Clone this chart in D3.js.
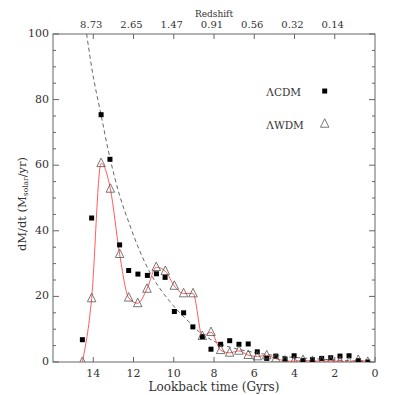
<!DOCTYPE html>
<html>
<head>
<meta charset="utf-8">
<script src="https://cdn.jsdelivr.net/npm/d3@7"></script>
<style>
  html, body { margin: 0; padding: 0; background: #fff; }
  svg text { font-family: "DejaVu Serif", "Liberation Serif", serif; fill: #333; }
</style>
</head>
<body>
<div id="chart"></div>
<script>
// Star formation rate vs lookback time, LCDM vs LWDM

const cdmTime = [14.54, 14.08, 13.61, 13.17, 12.69, 12.24, 11.78, 11.31, 10.86, 10.43, 9.97, 9.51,
                 9.05, 8.58, 8.15, 7.67, 7.22, 6.76, 6.30, 5.85, 5.38, 4.93, 4.47, 4.02, 3.58,
                 3.11, 2.65, 2.20, 1.74, 1.29, 0.83, 0.36];
const cdmRate = [6.8, 43.9, 75.4, 61.8, 35.7, 27.9, 26.8, 26.4, 26.9, 25.8, 15.4, 15.0,
                 10.7, 7.7, 3.9, 5.4, 6.5, 5.4, 5.5, 3.1, 1.1, 1.8, 0.9, 1.9, 0.4,
                 0.7, 1.1, 1.3, 1.8, 1.9, 0.4, 0.0];

const wdmTime = [14.54, 14.08, 13.61, 13.15, 12.69, 12.24, 11.79, 11.33, 10.87, 10.42, 9.97, 9.51,
                 9.04, 8.58, 8.15, 7.67, 7.22, 6.76, 6.30, 5.85, 5.38, 4.93, 4.47, 4.02, 3.58,
                 3.11, 2.65, 2.20, 1.74, 1.29, 0.83, 0.36];
const wdmRate = [0.0, 19.4, 60.6, 52.8, 32.9, 19.6, 17.9, 22.3, 28.9, 27.7, 23.2, 20.9,
                 20.9, 7.9, 9.1, 3.6, 2.8, 3.4, 2.1, 1.7, 2.0, 1.0, 0.4, 0.2, 0.6,
                 0.3, 0.3, 0.3, 0.2, 0.0, 0.6, 0.0];

// dashed model curve
const fitTime = [14.33, 14.0, 13.6, 13.2, 12.7, 12.2, 11.7, 11.2, 10.7, 10.2, 9.7, 9.2, 8.7,
                 8.2, 7.7, 7.0, 6.0, 5.0, 4.0, 3.0, 2.0, 1.0, 0.3];
const fitRate = [100, 87, 75, 63, 51, 42, 34, 27.5, 22.5, 18.5, 15, 12, 9,
                 7, 5.5, 4.2, 2.9, 2.0, 1.4, 1.0, 0.6, 0.3, 0.1];

const bottomTicks = [14, 12, 10, 8, 6, 4, 2, 0];
const topTickTimes = [14, 12, 10, 8, 6, 4, 2];
const topTickLabels = ["8.73", "2.65", "1.47", "0.91", "0.56", "0.32", "0.14"];
const legendNames = ["\u039BCDM", "\u039BWDM"];

const W = 395, H = 395;
const m = { top: 34, right: 20, bottom: 33, left: 53 };
const iw = W - m.left - m.right;
const ih = H - m.top - m.bottom;

const x = d3.scaleLinear().domain([16, 0]).range([0, iw]);
const y = d3.scaleLinear().domain([0, 100]).range([ih, 0]);

const axisCol = "#666";

const svg = d3.select("#chart").append("svg")
  .attr("width", W).attr("height", H);

const g = svg.append("g").attr("transform", `translate(${m.left},${m.top})`);

// frame
g.append("rect")
  .attr("x", 0).attr("y", 0).attr("width", iw).attr("height", ih)
  .attr("fill", "none").attr("stroke", axisCol).attr("stroke-width", 1);

// y ticks, left and right (inward)
d3.range(0, 101, 5).forEach(v => {
  const len = v % 20 === 0 ? 6 : 3;
  g.append("line").attr("x1", 0).attr("x2", len).attr("y1", y(v)).attr("y2", y(v))
    .attr("stroke", axisCol);
  g.append("line").attr("x1", iw).attr("x2", iw - len).attr("y1", y(v)).attr("y2", y(v))
    .attr("stroke", axisCol);
});
d3.range(0, 101, 20).forEach(v => {
  g.append("text")
    .attr("x", -4).attr("y", y(v))
    .attr("text-anchor", "end").attr("dominant-baseline", "middle")
    .attr("font-size", "11px")
    .text(v);
});

// bottom ticks
bottomTicks.forEach(t => {
  g.append("line").attr("x1", x(t)).attr("x2", x(t)).attr("y1", ih).attr("y2", ih - 5)
    .attr("stroke", axisCol);
  g.append("text")
    .attr("x", x(t)).attr("y", ih + 15)
    .attr("text-anchor", "middle")
    .attr("font-size", "11px")
    .text(t);
});

// top ticks (redshift)
topTickTimes.forEach((t, i) => {
  g.append("line").attr("x1", x(t)).attr("x2", x(t)).attr("y1", 0).attr("y2", 5)
    .attr("stroke", axisCol);
  g.append("text")
    .attr("x", x(t) - 2).attr("y", -6)
    .attr("text-anchor", "middle")
    .attr("font-size", "10px")
    .text(topTickLabels[i]);
});

g.append("text")
  .attr("x", x(8)).attr("y", -17)
  .attr("text-anchor", "middle")
  .attr("font-size", "9px")
  .text("Redshift");

// axis titles
g.append("text")
  .attr("x", x(8)).attr("y", ih + 29)
  .attr("text-anchor", "middle")
  .attr("font-size", "12px")
  .text("Lookback time (Gyrs)");

const yl = g.append("text")
  .attr("transform", `translate(-27,${ih / 2 + 6}) rotate(-90)`)
  .attr("text-anchor", "middle")
  .attr("font-size", "11.5px");
yl.append("tspan").text("dM/dt (M");
yl.append("tspan").attr("font-size", "7.5px").attr("dy", 2).text("solar");
yl.append("tspan").attr("dy", -2).text("/yr)");

// clip to plot area
svg.append("defs").append("clipPath").attr("id", "clip")
  .append("rect").attr("x", 0).attr("y", 0).attr("width", iw).attr("height", ih);

const plot = g.append("g").attr("clip-path", "url(#clip)");

// dashed fit
const fitPts = fitTime.map((t, i) => [t, fitRate[i]]);
plot.append("path")
  .datum(fitPts)
  .attr("fill", "none")
  .attr("stroke", "#555")
  .attr("stroke-width", 0.9)
  .attr("stroke-dasharray", "4,3")
  .attr("d", d3.line().x(d => x(d[0])).y(d => y(d[1])).curve(d3.curveCatmullRom));

// red WDM line
const wdmPts = wdmTime.map((t, i) => [t, wdmRate[i]]);
plot.append("path")
  .datum(wdmPts)
  .attr("fill", "none")
  .attr("stroke", "#ff5a5a")
  .attr("stroke-width", 1)
  .attr("d", d3.line().x(d => x(d[0])).y(d => y(d[1])).curve(d3.curveMonotoneX));

// CDM squares
const sq = 5;
cdmTime.forEach((t, i) => {
  plot.append("rect")
    .attr("x", x(t) - sq / 2).attr("y", y(cdmRate[i]) - sq / 2)
    .attr("width", sq).attr("height", sq)
    .attr("fill", "#000");
});

// WDM triangles
const tri = (cx, cy, s) => `M${cx},${cy - s * 0.6}L${cx + s / 2},${cy + s * 0.4}L${cx - s / 2},${cy + s * 0.4}Z`;
wdmTime.forEach((t, i) => {
  plot.append("path")
    .attr("d", tri(x(t), y(wdmRate[i]), 8.5))
    .attr("fill", "none")
    .attr("stroke", "#555")
    .attr("stroke-width", 0.8);
});

// legend
const lgY = [y(82), y(72)];
legendNames.forEach((name, i) => {
  g.append("text")
    .attr("x", x(5.4)).attr("y", lgY[i])
    .attr("dominant-baseline", "middle")
    .attr("font-size", "10.5px")
    .text(name);
});
g.append("rect")
  .attr("x", x(2.5) - 2.5).attr("y", lgY[0] - 4.5)
  .attr("width", 5).attr("height", 5).attr("fill", "#000");
g.append("path")
  .attr("d", tri(x(2.5), lgY[1] - 2, 8.5))
  .attr("fill", "none").attr("stroke", "#555").attr("stroke-width", 0.8);
</script>
</body>
</html>
